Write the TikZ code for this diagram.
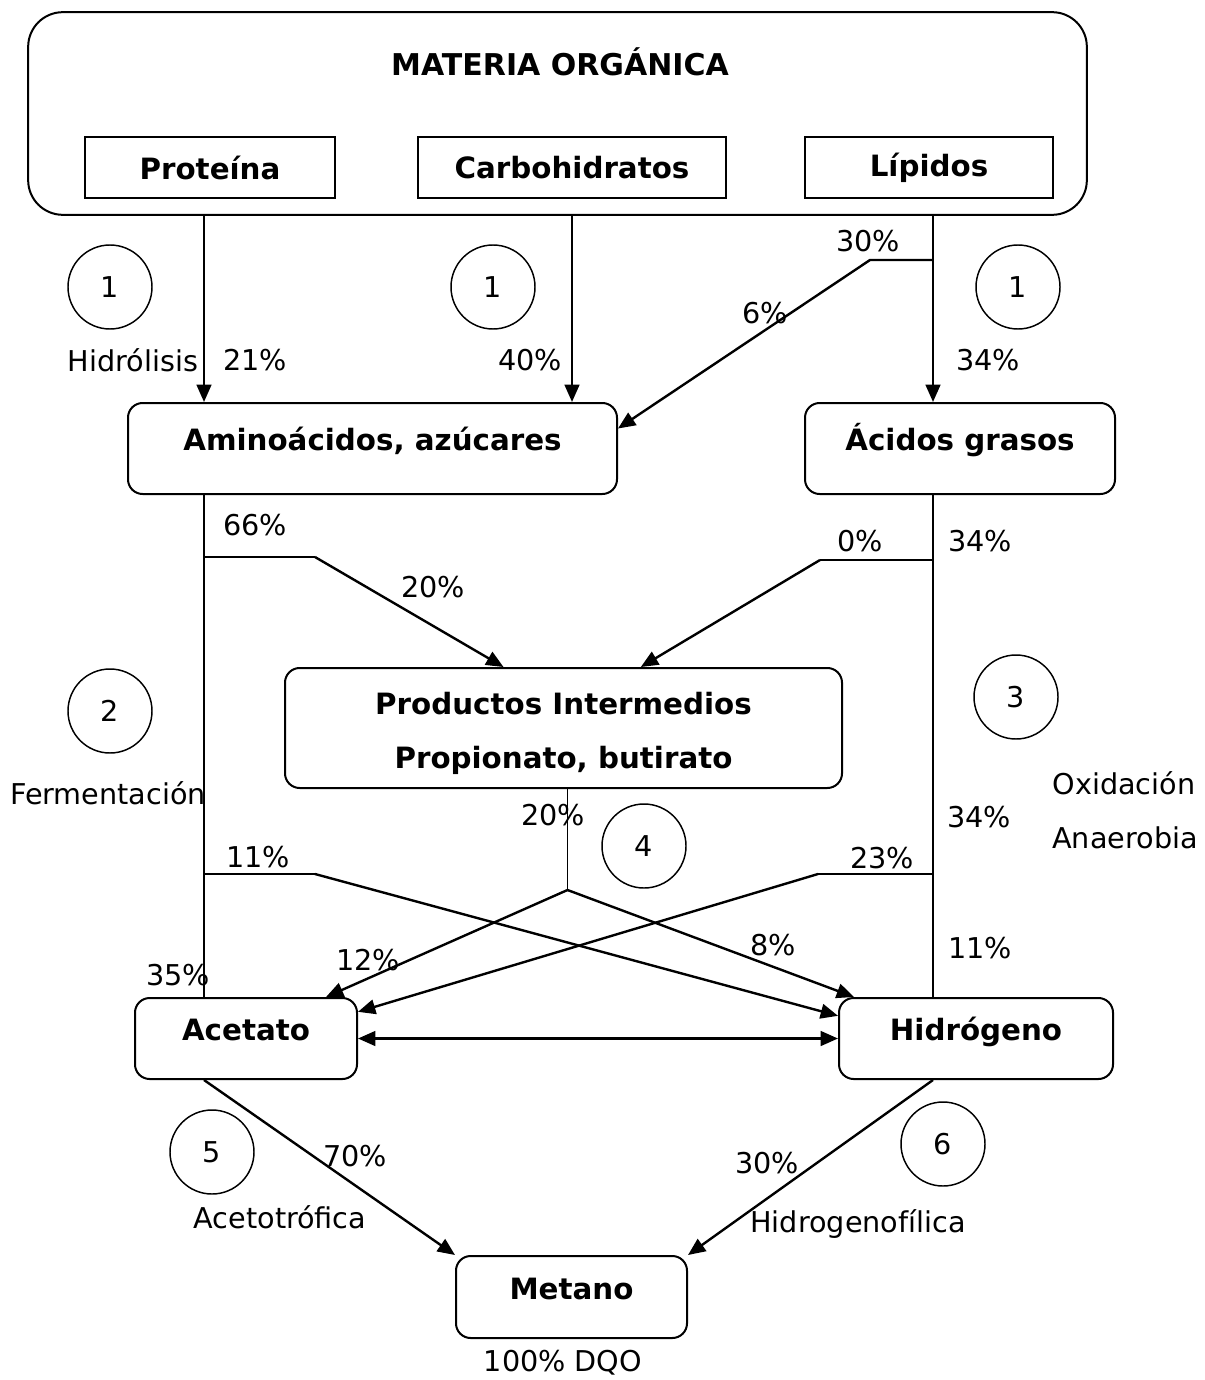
\documentclass[tikz,border=0pt]{standalone}
\usepackage{fontspec}
\setmainfont{DejaVu Sans}
\usetikzlibrary{arrows.meta}

\tikzset{
  txt/.style={font=\fontsize{21.5}{26}\selectfont, inner sep=0pt},
  caja/.style={draw, line width=1.5pt, rounded corners=11pt, font=\fontsize{22}{40}\selectfont\bfseries},
  box/.style={caja, text height=15pt, text depth=12pt},
  sqbox/.style={draw, line width=1.5pt, font=\fontsize{22}{26}\selectfont\bfseries},
  paso/.style={draw, circle, line width=1.1pt, minimum size=63pt, inner sep=0pt, font=\fontsize{21.5}{26}\selectfont},
  flecha/.style={line width=1.8pt, -{Triangle[length=13pt,width=11pt]}},
  rama/.style={line width=1.3pt},
}

\begin{document}
\begin{tikzpicture}[x=0.75pt, y=-0.75pt]
    \useasboundingbox (0,0) rectangle (1204,1380);
    % materia organica
    \node[draw, line width=1.5pt, rounded corners=26pt, minimum width=794pt, minimum height=152pt] (materia) at (557.5,113.5) {};
    \node[txt, font=\fontsize{22.5}{26}\selectfont\bfseries] (titulo) at (560,62) {MATERIA ORGÁNICA};
    \node[sqbox, minimum width=187.5pt, minimum height=45.75pt] (proteina) at (210,167.5) {Proteína};
    \node[sqbox, minimum width=231pt, minimum height=45.75pt] (carbo) at (572,167.5) {Carbohidratos};
    \node[sqbox, minimum width=186pt, minimum height=45.75pt] (lipidos) at (929,167.5) {Lípidos};
    % productos
    \node[box, minimum width=366.75pt, minimum height=68.25pt] (amino) at (372.5,448.5) {Aminoácidos, azúcares};
    \node[box, minimum width=232.5pt, minimum height=68.25pt] (acidos) at (960,448.5) {Ácidos grasos};
    \node[caja, align=center, minimum width=417.75pt, minimum height=90pt, text height=60pt, text depth=0pt] (productos) at (563.5,728) {Productos Intermedios\\Propionato, butirato};
    \node[box, minimum width=166.5pt, minimum height=60.75pt] (acetato) at (246,1038.5) {Acetato};
    \node[box, minimum width=205.5pt, minimum height=60.75pt] (hidrogeno) at (976,1038.5) {Hidrógeno};
    \node[box, minimum width=173.25pt, minimum height=61.5pt] (metano) at (571.5,1297) {Metano};
    % pasos
    \node[paso] (p1a) at (110,287) {1};
    \node[paso] (p1b) at (493,287) {1};
    \node[paso] (p1c) at (1018,287) {1};
    \node[paso] (p2) at (110,711) {2};
    \node[paso] (p3) at (1016,697) {3};
    \node[paso] (p4) at (644,846) {4};
    \node[paso] (p5) at (212,1152) {5};
    \node[paso] (p6) at (943,1144) {6};
    % columnas
    \coordinate (colL) at (204,0);
    \coordinate (colR) at (933,0);
    % hidrolisis
    \draw[flecha] (colL |- materia.south) -- (colL |- amino.north);
    \draw[flecha] (carbo |- materia.south) -- (carbo |- amino.north);
    \draw[flecha] (colR |- materia.south) -- (colR |- acidos.north);
    \draw[flecha] (colR |- 0,260) -- ++(-63,0) coordinate (k30) -- ([yshift=15pt]amino.east);
    % fermentacion
    \draw[rama] (colL |- amino.south) -- (colL |- acetato.north);
    \draw[rama] (colR |- acidos.south) -- (colR |- hidrogeno.north);
    \draw[rama] (colL |- 0,557) -- ++(111,0) coordinate (k66);
    \draw[flecha] (k66) -- ([xshift=-45pt]productos.north);
    \draw[rama] (colR |- 0,560) -- ++(-113,0) coordinate (k0);
    \draw[flecha] (k0) -- ([xshift=58pt]productos.north);
    \draw[rama] ([xshift=3pt]productos.south) -- ++(0,101) coordinate (k4);
    \draw[flecha] (k4) -- ([xshift=60pt]acetato.north);
    \draw[flecha] (k4) -- ([xshift=12pt]hidrogeno.north west);
    \draw[rama] (colL |- 0,874) -- ++(111,0) coordinate (k11);
    \draw[flecha] (k11) -- ([yshift=17pt]hidrogeno.west);
    \draw[rama] (colR |- 0,874) -- ++(-115,0) coordinate (k23);
    \draw[flecha] (k23) -- ([yshift=20pt]acetato.east);
    \draw[line width=1.8pt, {Triangle[length=13pt,width=11pt]}-{Triangle[length=13pt,width=11pt]}] (acetato.east) -- (hidrogeno.west);
    % metanogenesis
    \draw[flecha] (colL |- acetato.south) -- (metano.north west);
    \draw[flecha] (colR |- hidrogeno.south) -- (metano.north east);
    % etiquetas
    \node[txt] (hidrolisis) at (133,360) {Hidrólisis};
    \node[txt] (e21) at (255,360) {21\%};
    \node[txt] (e40) at (530,360) {40\%};
    \node[txt] (e34a) at (988,360) {34\%};
    \node[txt] (e30) at (868,241) {30\%};
    \node[txt] (e6) at (765,313) {6\%};
    \node[txt] (e66) at (255,525) {66\%};
    \node[txt] (e20a) at (433,587) {20\%};
    \node[txt] (e0) at (860,541) {0\%};
    \node[txt] (e34b) at (980,541) {34\%};
    \node[txt] (fermentacion) at (108,793) {Fermentación};
    \node[txt] (oxidacion) at (1124,783) {Oxidación};
    \node[txt] (anaerobia) at (1125,838) {Anaerobia};
    \node[txt] (e34c) at (979,817) {34\%};
    \node[txt] (e20b) at (553,815) {20\%};
    \node[txt] (e11a) at (258,857) {11\%};
    \node[txt] (e23) at (882,858) {23\%};
    \node[txt] (e12) at (368,960) {12\%};
    \node[txt] (e8) at (773,945) {8\%};
    \node[txt] (e35) at (178,975) {35\%};
    \node[txt] (e11b) at (980,948) {11\%};
    \node[txt] (e70) at (355,1156) {70\%};
    \node[txt] (acetotrofica) at (280,1217) {Acetotrófica};
    \node[txt] (e30b) at (767,1163) {30\%};
    \node[txt] (hidrogenofilica) at (858,1224) {Hidrogenofílica};
    \node[txt] (dqo) at (563,1363) {100\% DQO};
\end{tikzpicture}
\end{document}
